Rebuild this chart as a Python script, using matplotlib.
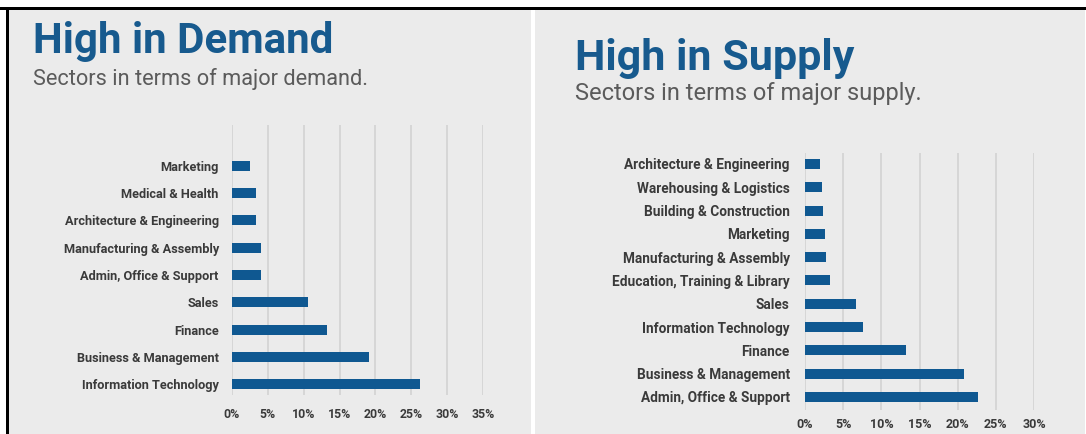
import matplotlib
matplotlib.use("Agg")
import matplotlib.pyplot as plt
from matplotlib.patches import Rectangle
from matplotlib.ticker import FuncFormatter

# Demand side (top to bottom)
demand_sectors = [
    "Marketing", "Medical & Health", "Architecture & Engineering",
    "Manufacturing & Assembly", "Admin, Office & Support", "Sales",
    "Finance", "Business & Management", "Information Technology",
]
demand_share = [2.5, 3.3, 3.3, 4.0, 4.0, 10.6, 13.2, 19.1, 26.2]
demand_ticks = [0, 5, 10, 15, 20, 25, 30, 35]

# Supply side (top to bottom)
supply_sectors = [
    "Architecture & Engineering", "Warehousing & Logistics",
    "Building & Construction", "Marketing", "Manufacturing & Assembly",
    "Education, Training & Library", "Sales", "Information Technology",
    "Finance", "Business & Management", "Admin, Office & Support",
]
supply_share = [2.0, 2.2, 2.4, 2.6, 2.8, 3.3, 6.7, 7.6, 13.2, 20.8, 22.7]
supply_ticks = [0, 5, 10, 15, 20, 25, 30]

W, H = 1086, 434
BAR = "#0f5891"
TITLE = "#175a8e"
SUB = "#5b5b5b"
LABEL = "#3a3a3a"
PANEL = "#ebebeb"
GRID = "#d0d0d0"

plt.rcParams["font.family"] = ["Roboto", "DejaVu Sans"]

fig = plt.figure(figsize=(W / 100, H / 100), dpi=100)
fig.patch.set_facecolor("white")


def fx(x):
    return x / W


def fy(y):
    return 1 - y / H


def rect(x0, y0, x1, y1, color):
    fig.patches.append(Rectangle((fx(x0), fy(y1)), fx(x1 - x0), (y1 - y0) / H,
                                 transform=fig.transFigure, facecolor=color,
                                 edgecolor="none", zorder=-10))


# panel backgrounds and frame lines
rect(9, 10, 531, H, PANEL)
rect(535, 10, W - 1, H, PANEL)
rect(0, 7, W, 10, "black")
rect(6, 7, 9, H, "black")


def panel(left, right, top, bottom, xmax, ylo, yhi, sectors, values, ticks,
          bar_h, lab_size, tick_size, lab_pad, tick_pad):
    ax = fig.add_axes([fx(left), fy(bottom), fx(right - left), (bottom - top) / H])
    ax.set_zorder(2)
    ax.set_facecolor("none")
    pos = list(range(len(sectors)))
    ax.barh(pos, values, height=bar_h, color=BAR, zorder=3)
    ax.set_xlim(0, xmax)
    ax.set_ylim(yhi, ylo)
    ax.set_yticks(pos)
    ax.set_yticklabels(sectors, fontsize=lab_size, fontweight="bold", color=LABEL)
    ax.set_xticks(ticks)
    ax.xaxis.set_major_formatter(FuncFormatter(lambda v, p: f"{int(v)}%"))
    for t in ax.get_xticklabels():
        t.set_fontsize(tick_size)
        t.set_fontweight("bold")
        t.set_color(LABEL)
    ax.tick_params(axis="y", length=0, pad=lab_pad)
    ax.tick_params(axis="x", length=0, pad=tick_pad)
    ax.xaxis.grid(True, color=GRID, linewidth=1.1, zorder=0)
    for s in ax.spines.values():
        s.set_visible(False)
    return ax


panel(232, 483, 125, 395, 35, -1.5, 8.4, demand_sectors, demand_share,
      demand_ticks, 0.37, 9.2, 8.8, 9.5, 9)
panel(805, 1034, 153, 410, 30, -0.47, 10.56, supply_sectors, supply_share,
      supply_ticks, 0.43, 9.8, 9.0, 11.0, 6)

fig.text(fx(33), fy(53), "High in Demand", fontsize=30.3, fontweight="bold",
         color=TITLE, va="baseline", ha="left")
fig.text(fx(33), fy(85), "Sectors in terms of major demand.", fontsize=15.7,
         color=SUB, va="baseline", ha="left")
fig.text(fx(575), fy(70), "High in Supply", fontsize=31, fontweight="bold",
         color=TITLE, va="baseline", ha="left")
fig.text(fx(575), fy(100), "Sectors in terms of major supply.", fontsize=17,
         color=SUB, va="baseline", ha="left")

fig.savefig("out.png", dpi=100, facecolor=fig.get_facecolor())
